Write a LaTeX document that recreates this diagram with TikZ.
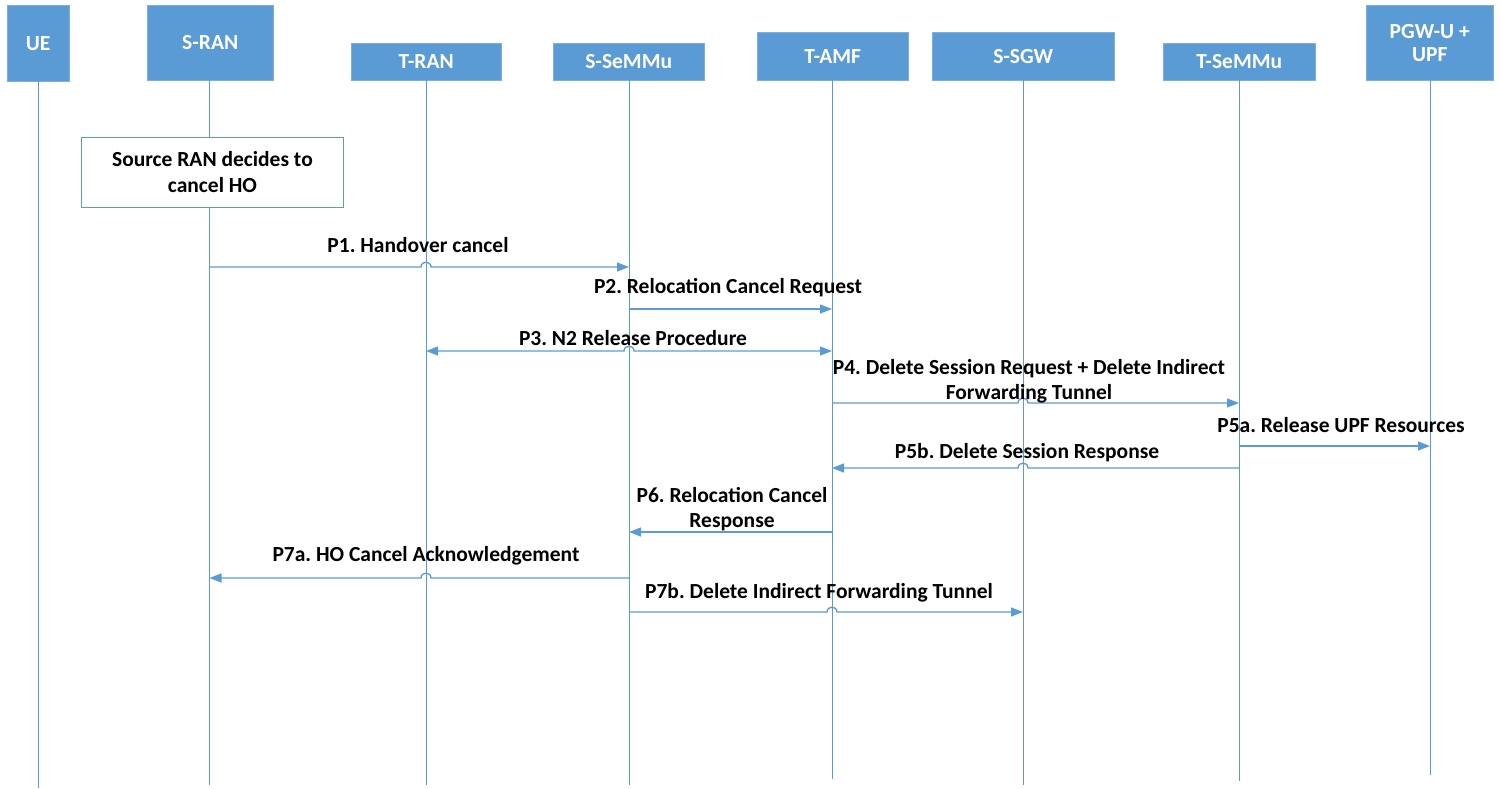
\documentclass[tikz,border=0pt]{standalone}
\usepackage{fontspec}
\setmainfont{Carlito}
\usetikzlibrary{arrows.meta}
\definecolor{blu}{HTML}{5B9BD5}
\tikzset{
  head/.style={draw=blu!80!white,fill=blu,text=white,font=\bfseries\fontsize{21.5}{23}\selectfont,inner sep=0pt,align=center,anchor=north west},
  life/.style={draw=blu,line width=0.9pt},
  msg/.style={draw=blu,line width=1.3pt,-{Triangle[length=12pt,width=9pt]}},
  dmsg/.style={draw=blu,line width=1.3pt,{Triangle[length=12pt,width=9pt]}-{Triangle[length=12pt,width=9pt]}},
  lbl/.style={font=\bfseries\fontsize{21.5}{25}\selectfont,text=black,inner sep=0pt,align=center},
  note/.style={draw=blu,line width=0.9pt,fill=white,font=\bfseries\fontsize{21.5}{26}\selectfont,align=center,inner sep=0pt}
}
\begin{document}
\frenchspacing
\begin{tikzpicture}[x=1pt,y=-1pt]
\useasboundingbox (0,0) rectangle (1501,788);
% headers
\node[head,minimum width=62pt,minimum height=76pt] (UE) at (7,5) {UE};
\node[head,minimum width=126pt,minimum height=75pt] (SRAN) at (147,5) {S-RAN};
\node[head,minimum width=150pt,minimum height=37pt] (TRAN) at (351,43) {T-RAN};
\node[head,minimum width=151pt,minimum height=37pt] (SSMM) at (553,43) {S-SeMMu};
\node[head,minimum width=151pt,minimum height=48pt] (TAMF) at (757,32) {T-AMF};
\node[head,minimum width=182pt,minimum height=48pt] (SSGW) at (932,32) {S-SGW};
\node[head,minimum width=152pt,minimum height=37pt] (TSMM) at (1163,43) {T-SeMMu};
\node[head,minimum width=127pt,minimum height=75pt] (PGW) at (1366,5) {PGW-U +\\UPF};
% lifeline ends
\coordinate (eUE) at (38,788);
\coordinate (eSRAN) at (209.5,785);
\coordinate (eTRAN) at (426,785);
\coordinate (eSSMM) at (629,785);
\coordinate (eTAMF) at (832,779);
\coordinate (eSSGW) at (1023,785);
\coordinate (eTSMM) at (1239,781);
\coordinate (ePGW) at (1430,775);
\draw[life] (UE.south -| eUE) -- (eUE);
\draw[life] (SRAN.south -| eSRAN) -- (eSRAN);
\draw[life] (TRAN.south -| eTRAN) -- (eTRAN);
\draw[life] (SSMM.south -| eSSMM) -- (eSSMM);
\draw[life] (TAMF.south -| eTAMF) -- (eTAMF);
\draw[life] (SSGW.south -| eSSGW) -- (eSSGW);
\draw[life] (TSMM.south -| eTSMM) -- (eTSMM);
\draw[life] (PGW.south -| ePGW) -- (ePGW);
% note
\node[note,minimum width=262pt,minimum height=70pt,anchor=north west] (NOTE) at (81,137) {Source RAN decides to\\cancel HO};
% P1
\draw[msg] (eSRAN |- 0,267) -- ([xshift=-5pt]eTRAN |- 0,267) .. controls +(0,-6.5) and +(0,-6.5) .. ([xshift=5pt]eTRAN |- 0,267) -- (eSSMM |- 0,267);
\node[lbl] (L1) at (418,245) {P1. Handover cancel};
% P2
\draw[msg] (eSSMM |- 0,309) -- (eTAMF |- 0,309);
\node[lbl] (L2) at (728,288) {P2. Relocation Cancel Request};
% P3
\draw[dmsg] (eTRAN |- 0,351) -- ([xshift=-5pt]eSSMM |- 0,351) .. controls +(0,-6.5) and +(0,-6.5) .. ([xshift=5pt]eSSMM |- 0,351) -- (eTAMF |- 0,351);
\node[lbl] (L3) at (633,338) {P3. N2 Release Procedure};
% P4
\draw[msg] (eTAMF |- 0,403) -- ([xshift=-5pt]eSSGW |- 0,403) .. controls +(0,-6.5) and +(0,-6.5) .. ([xshift=5pt]eSSGW |- 0,403) -- (eTSMM |- 0,403);
\node[lbl] (L4) at (1029,381) {P4. Delete Session Request + Delete Indirect\\Forwarding Tunnel};
% P5a
\draw[msg] (eTSMM |- 0,446) -- (ePGW |- 0,446);
\node[lbl] (L5a) at (1341,425) {P5a. Release UPF Resources};
% P5b
\draw[msg] (eTSMM |- 0,468) -- ([xshift=5pt]eSSGW |- 0,468) .. controls +(0,-6.5) and +(0,-6.5) .. ([xshift=-5pt]eSSGW |- 0,468) -- (eTAMF |- 0,468);
\node[lbl] (L5b) at (1027,453) {P5b. Delete Session Response};
% P6
\draw[msg] (eTAMF |- 0,532) -- (eSSMM |- 0,532);
\node[lbl] (L6) at (732,509) {P6. Relocation Cancel\\Response};
% P7a
\draw[msg] (eSSMM |- 0,578) -- ([xshift=5pt]eTRAN |- 0,578) .. controls +(0,-6.5) and +(0,-6.5) .. ([xshift=-5pt]eTRAN |- 0,578) -- (eSRAN |- 0,578);
\node[lbl] (L7a) at (426,556) {P7a. HO Cancel Acknowledgement};
% P7b
\draw[msg] (eSSMM |- 0,612) -- ([xshift=-5pt]eTAMF |- 0,612) .. controls +(0,-6.5) and +(0,-6.5) .. ([xshift=5pt]eTAMF |- 0,612) -- (eSSGW |- 0,612);
\node[lbl] (L7b) at (819,593) {P7b. Delete Indirect Forwarding Tunnel};
\end{tikzpicture}
\end{document}
